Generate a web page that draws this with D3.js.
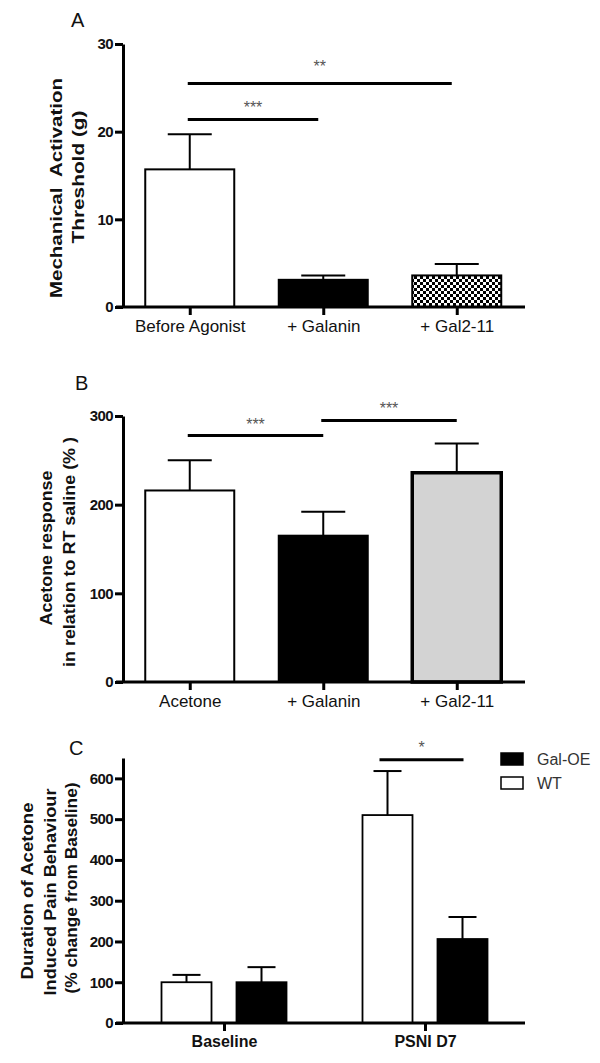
<!DOCTYPE html>
<html>
<head>
<meta charset="utf-8">
<script src="https://cdnjs.cloudflare.com/ajax/libs/d3/7.8.5/d3.min.js"></script>
<style>
  html, body { margin: 0; padding: 0; background: #fff; }
  svg { display: block; }
  text { font-family: "Liberation Sans", Arial, sans-serif; }
</style>
</head>
<body>
<svg id="chart" width="600" height="1063"></svg>
<script>
// ---------- Panel A data ----------
const catsA = ["Before Agonist", "+ Galanin", "+ Gal2-11"];
const meanA = [15.7, 3.1, 3.6];
const semA = [4.0, 0.5, 1.3];
const ticksA = [0, 10, 20, 30];
const sigA = [
  { from: 0, to: 2, y: 25.5, label: "**" },
  { from: 0, to: 1, y: 21.4, label: "***" }
];

// ---------- Panel B data ----------
const catsB = ["Acetone", "+ Galanin", "+ Gal2-11"];
const meanB = [216, 165, 236];
const semB = [34, 27, 33];
const ticksB = [0, 100, 200, 300];
const sigB = [
  { from: 0, to: 1, y: 278, label: "***" },
  { from: 1, to: 2, y: 295, label: "***" }
];

// ---------- Panel C data ----------
const groupsC = ["Baseline", "PSNI D7"];
const seriesC = ["WT", "Gal-OE"];
const wtMeanC = [100, 510];
const wtSemC = [18, 108];
const galMeanC = [100, 206];
const galSemC = [37, 54];
const ticksC = [0, 100, 200, 300, 400, 500, 600];
const legendC = ["Gal-OE", "WT"];
const sigC = [{ group: 1, y: 646, label: "*" }];

// ---------- drawing ----------
const svg = d3.select("#chart");
const defs = svg.append("defs");
const pat = defs.append("pattern").attr("id", "checker")
  .attr("width", 6).attr("height", 6).attr("patternUnits", "userSpaceOnUse");
pat.append("rect").attr("width", 6).attr("height", 6).attr("fill", "#fff");
pat.append("rect").attr("width", 3).attr("height", 3).attr("fill", "#000");
pat.append("rect").attr("x", 3).attr("y", 3).attr("width", 3).attr("height", 3).attr("fill", "#000");

const AXIS_X = 123;
const AXIS_RIGHT = 525;

function drawYAxis(g, y, ticks) {
  const ax = g.append("g").attr("transform", `translate(${AXIS_X},0)`)
    .call(d3.axisLeft(y).tickValues(ticks).tickSize(8).tickSizeOuter(0).tickPadding(2));
  ax.select(".domain").attr("stroke", "#000").attr("stroke-width", 3);
  ax.selectAll(".tick line").attr("stroke", "#000").attr("stroke-width", 3);
  ax.selectAll(".tick text").attr("font-size", 15).attr("font-weight", "bold")
    .attr("fill", "#111").attr("letter-spacing", "-0.6px")
    .attr("font-family", "'Liberation Sans', Arial, sans-serif");
}

function drawXAxis(g, x, y0, labels, bold, fontSize) {
  g.append("line").attr("x1", AXIS_X - 7).attr("x2", AXIS_RIGHT)
    .attr("y1", y0).attr("y2", y0).attr("stroke", "#000").attr("stroke-width", 3);
  const ax = g.append("g").attr("transform", `translate(0,${y0})`)
    .call(d3.axisBottom(x).tickSize(8).tickPadding(5).tickSizeOuter(0));
  ax.select(".domain").remove();
  ax.selectAll(".tick line").attr("stroke", "#000").attr("stroke-width", 3);
  ax.selectAll(".tick text").attr("font-size", fontSize)
    .attr("font-weight", bold ? "bold" : "normal").attr("fill", "#111")
    .attr("font-family", "'Liberation Sans', Arial, sans-serif");
}

function drawYLabel(g, lines) {
  lines.forEach(l => {
    g.append("text")
      .attr("transform", `translate(${l.x},${l.cy}) rotate(-90)`)
      .attr("text-anchor", "middle")
      .attr("font-size", 17).attr("font-weight", "bold").attr("fill", "#111")
      .attr("textLength", l.len).attr("lengthAdjust", "spacingAndGlyphs")
      .attr("xml:space", "preserve")
      .text(l.text);
  });
}

function drawSig(g, x1, x2, yPix, label, starOffset) {
  g.append("line").attr("x1", x1).attr("x2", x2).attr("y1", yPix).attr("y2", yPix)
    .attr("stroke", "#000").attr("stroke-width", 3);
  g.append("text").attr("x", (x1 + x2) / 2).attr("y", yPix - starOffset + 9)
    .attr("text-anchor", "middle").attr("font-size", 16).attr("fill", "#555")
    .text(label);
}

function errorBar(g, cx, yTop, yErr, half) {
  g.append("line").attr("x1", cx).attr("x2", cx).attr("y1", yTop).attr("y2", yErr)
    .attr("stroke", "#000").attr("stroke-width", 2);
  g.append("line").attr("x1", cx - half).attr("x2", cx + half).attr("y1", yErr).attr("y2", yErr)
    .attr("stroke", "#000").attr("stroke-width", 2);
}

function panelLetter(x, y, t) {
  svg.append("text").attr("x", x).attr("y", y).attr("font-size", 20).attr("fill", "#111").text(t);
}

// ---------- Panel A ----------
(function () {
  const g = svg.append("g");
  const x = d3.scalePoint().domain(catsA).range([AXIS_X, 523.5]).padding(0.5);
  const y = d3.scaleLinear().domain([0, 30]).range([307, 44]);
  const bw = 89;
  const fills = ["#fff", "#000", "url(#checker)"];
  catsA.forEach((c, i) => {
    g.append("rect").attr("x", x(c) - bw / 2).attr("y", y(meanA[i]))
      .attr("width", bw).attr("height", y(0) - y(meanA[i]))
      .attr("fill", fills[i]).attr("stroke", "#000").attr("stroke-width", 2);
    errorBar(g, x(c), y(meanA[i]), y(meanA[i] + semA[i]), 22);
  });
  drawYAxis(g, y, ticksA);
  drawXAxis(g, x, y(0), catsA, false, 17);
  sigA.forEach((s, k) => drawSig(g, x(catsA[s.from]) - 2, x(catsA[s.to]) - 5, y(s.y), s.label, k === 0 ? 20 : 15));
  drawYLabel(g, [
    { x: 62, cy: 188, len: 220, text: "Mechanical  Activation" },
    { x: 84, cy: 177, len: 133, text: "Threshold (g)" }
  ]);
  panelLetter(71, 27, "A");
})();

// ---------- Panel B ----------
(function () {
  const g = svg.append("g");
  const x = d3.scalePoint().domain(catsB).range([AXIS_X, 523.5]).padding(0.5);
  const y = d3.scaleLinear().domain([0, 300]).range([682, 416]);
  const bw = 89;
  const fills = ["#fff", "#000", "#d3d3d3"];
  const sw = [2, 2, 3.5];
  catsB.forEach((c, i) => {
    g.append("rect").attr("x", x(c) - bw / 2).attr("y", y(meanB[i]))
      .attr("width", bw).attr("height", y(0) - y(meanB[i]))
      .attr("fill", fills[i]).attr("stroke", "#000").attr("stroke-width", sw[i]);
    errorBar(g, x(c), y(meanB[i]), y(meanB[i] + semB[i]), 22);
  });
  drawYAxis(g, y, ticksB);
  drawXAxis(g, x, y(0), catsB, false, 17);
  sigB.forEach(s => drawSig(g, x(catsB[s.from]) - 2, x(catsB[s.to]), y(s.y), s.label, 15));
  drawYLabel(g, [
    { x: 52, cy: 548, len: 155, text: "Acetone response" },
    { x: 75, cy: 552, len: 230, text: "in relation to RT saline (% )" }
  ]);
  panelLetter(75, 390, "B");
})();

// ---------- Panel C ----------
(function () {
  const g = svg.append("g");
  const x = d3.scalePoint().domain(groupsC).range([123.5, 525.5]).padding(0.5);
  const xs = d3.scaleBand().domain(seriesC).range([-62.5, 62.5]).paddingInner(1 / 3).paddingOuter(0);
  const y = d3.scaleLinear().domain([0, 650]).range([1023, 758]);
  const bw = xs.bandwidth();
  const series = [
    { name: "WT", mean: wtMeanC, sem: wtSemC, fill: "#fff", sw: 1.8 },
    { name: "Gal-OE", mean: galMeanC, sem: galSemC, fill: "#000", sw: 1.8 }
  ];
  groupsC.forEach((grp, gi) => {
    series.forEach(s => {
      const bx = x(grp) + xs(s.name);
      g.append("rect").attr("x", bx).attr("y", y(s.mean[gi]))
        .attr("width", bw).attr("height", y(0) - y(s.mean[gi]))
        .attr("fill", s.fill).attr("stroke", "#000").attr("stroke-width", s.sw);
      errorBar(g, bx + bw / 2, y(s.mean[gi]), y(s.mean[gi] + s.sem[gi]), 14);
    });
  });
  drawYAxis(g, y, ticksC);
  drawXAxis(g, x, y(0), groupsC, true, 16);
  sigC.forEach(s => {
    const gx = x(groupsC[s.group]);
    const x1 = gx + xs("WT") + bw / 2 - 8;
    const x2 = gx + xs("Gal-OE") + bw / 2 + 1;
    drawSig(g, x1, x2, y(s.y), s.label, 16);
  });
  drawYLabel(g, [
    { x: 33, cy: 891, len: 177, text: "Duration of Acetone" },
    { x: 56, cy: 892, len: 207, text: "Induced Pain Behaviour" },
    { x: 77, cy: 888, len: 211, text: "(% change from Baseline)" }
  ]);
  // legend
  const lg = g.append("g");
  legendC.forEach((name, i) => {
    const isGal = name === "Gal-OE";
    lg.append("rect").attr("x", 501).attr("y", 753 + i * 24).attr("width", 22).attr("height", 12)
      .attr("fill", isGal ? "#000" : "#fff").attr("stroke", "#000").attr("stroke-width", 1.5);
    lg.append("text").attr("x", 537).attr("y", 765 + i * 24).attr("font-size", 16).attr("fill", "#333")
      .text(name);
  });
  panelLetter(69, 755, "C");
})();
</script>
</body>
</html>
